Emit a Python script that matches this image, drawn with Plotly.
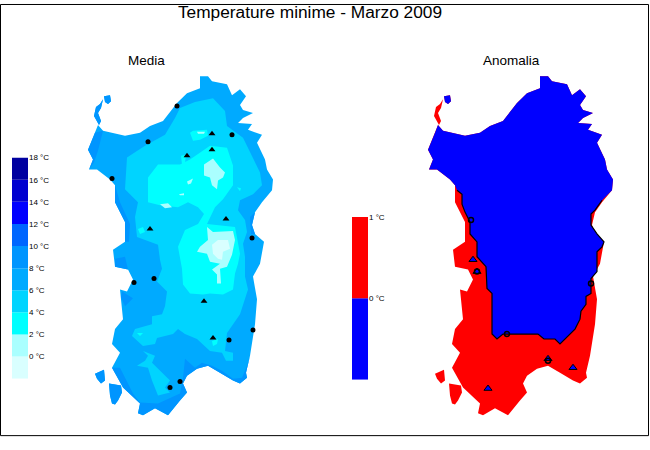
import plotly.graph_objects as go

# map outlines (x east, y south, in map units of the Media panel)
coast_north = [(115, 200), (115, 183), (110, 177), (97, 167), (89, 167), (93, 157), (88, 147), (95, 130),
               (98, 122), (103, 128), (125, 133), (140, 130), (150, 123), (163, 118), (177, 100), (187, 90),
               (200, 85), (200, 73), (208, 73), (212, 78), (227, 81), (232, 92), (240, 86), (246, 93),
               (240, 102), (243, 107), (253, 110), (243, 115), (238, 120), (252, 121), (248, 127), (262, 132),
               (257, 140), (265, 157), (267, 167), (273, 177), (272, 188), (262, 200), (255, 210), (252, 223),
               (255, 232), (264, 240)]
coast_south = [(262, 250), (260, 262), (253, 275), (257, 298), (255, 323), (253, 337), (250, 355), (246, 372),
               (247, 377), (240, 383), (233, 380), (220, 372), (208, 365), (197, 368), (187, 375), (183, 383),
               (187, 392), (180, 400), (168, 415), (155, 408), (143, 415), (138, 413), (140, 403), (123, 387),
               (112, 367), (120, 352), (112, 343), (115, 328), (123, 318), (120, 288), (127, 290), (133, 278),
               (128, 268), (115, 265), (113, 248), (125, 240), (125, 220)]
stintino = [(99, 122), (94, 113), (96, 104), (100, 101), (103, 96), (101, 105), (98, 110), (101, 118)]
asinara = [(104, 93), (110, 92), (111, 98), (108, 101), (105, 99)]
san_pietro = [(95, 373), (104, 369), (105, 380), (101, 383), (97, 378)]
sant_antioco = [(109, 383), (121, 385), (122, 392), (118, 400), (115, 404), (112, 403), (110, 395)]

# temperature bands
band_8_10 = [
    [(120, 367), (133, 393), (140, 402), (158, 403), (180, 393), (183, 377), (185, 358), (195, 367), (202, 362),
     (212, 365), (222, 370), (233, 378), (242, 377), (247, 365), (250, 355), (246, 372), (247, 377), (240, 383),
     (233, 380), (220, 372), (208, 365), (197, 368), (187, 375), (183, 383), (187, 392), (180, 400), (168, 415),
     (155, 408), (143, 415), (138, 413), (140, 403), (123, 387), (112, 367)],
    [(115, 257), (125, 255), (128, 268), (115, 265)],
    [(122, 290), (133, 297), (125, 305), (121, 296)],
    [(88, 147), (95, 130), (103, 128), (98, 148), (94, 160), (89, 167), (93, 157)],
    [(115, 200), (125, 220), (125, 240), (129, 240), (130, 222), (120, 200), (115, 183)],
    [(255, 210), (252, 223), (255, 232), (251, 232), (250, 215)],
    stintino, asinara, san_pietro, sant_antioco,
]
band_4_6 = [
    [(175, 115), (180, 105), (195, 99), (213, 95), (225, 108), (227, 123), (243, 135), (255, 160), (260, 170),
     (262, 183), (253, 192), (240, 198), (238, 208), (245, 218), (247, 230), (243, 242), (245, 255), (245, 275),
     (248, 288), (240, 313), (227, 332), (225, 350), (233, 352), (233, 360), (226, 360), (222, 352), (210, 350),
     (197, 338), (185, 333), (178, 328), (173, 333), (157, 337), (155, 343), (143, 345), (132, 335), (135, 328),
     (152, 323), (152, 315), (162, 313), (165, 305), (167, 290), (157, 280), (162, 267), (160, 258), (158, 243),
     (137, 235), (135, 215), (138, 200), (125, 187), (127, 155), (145, 143), (165, 132)],
    [(143, 350), (155, 355), (152, 362), (158, 368), (170, 380), (165, 387), (170, 392), (158, 395), (152, 380),
     (148, 367), (137, 365), (145, 360), (148, 355)],
]
band_2_4 = [
    [(158, 162), (180, 162), (190, 157), (200, 150), (210, 143), (227, 145), (233, 163), (233, 183), (223, 197),
     (215, 205), (210, 215), (207, 222), (235, 225), (240, 252), (238, 262), (235, 272), (233, 288), (223, 293),
     (210, 292), (203, 293), (190, 292), (183, 283), (182, 267), (178, 245), (185, 228), (198, 222), (204, 212),
     (198, 205), (188, 200), (178, 205), (160, 203), (148, 200), (148, 175)],
    [(190, 130), (193, 128), (207, 127), (208, 133), (200, 137), (193, 138)],
    [(181, 153), (186, 152), (185, 160), (182, 162)],
    [(138, 227), (143, 225), (145, 230), (140, 232)],
    [(137, 332), (143, 332), (140, 335)],
    [(212, 340), (218, 338), (217, 343), (213, 345)],
    [(237, 185), (241, 186), (240, 189)],
]
band_0_2 = [
    [(204, 162), (213, 156), (220, 165), (225, 170), (223, 175), (218, 178), (217, 187), (212, 183), (210, 175),
     (204, 173)],
    [(207, 225), (213, 230), (233, 229), (235, 238), (232, 253), (227, 265), (220, 267), (221, 282), (217, 282),
     (217, 273), (212, 268), (220, 262), (210, 260), (207, 252), (197, 250), (200, 245), (208, 238)],
    [(187, 179), (193, 176), (191, 181), (188, 182)],
    [(179, 192), (184, 191), (184, 193), (180, 193)],
    [(160, 202), (168, 201), (172, 205), (165, 206)],
    [(197, 129), (205, 129), (204, 131), (198, 131)],
]
band_below_0 = [[(212, 243), (218, 238), (228, 238), (230, 247), (223, 250), (222, 258), (218, 257), (213, 252)]]

# boundary between negative and positive anomaly
anomaly_edge = [(262, 198), (255, 208), (251, 212), (251, 223), (257, 232), (264, 240), (262, 245), (257, 250),
                (257, 270), (251, 277), (251, 292), (246, 295), (246, 303), (241, 310), (240, 318), (235, 328),
                (220, 343), (215, 338), (204, 338), (198, 333), (163, 333), (157, 338), (152, 333), (152, 292),
                (147, 287), (146, 265), (137, 255), (137, 240), (130, 232), (130, 220), (125, 210), (122, 202),
                (122, 192), (117, 188)]

# stations
media_round = [(148, 139), (112, 176), (232, 132), (252, 236), (134, 281), (154, 277), (253, 329), (229, 339),
               (180, 381), (170, 387), (177, 103)]
media_tri = [(187, 153), (212, 131), (212, 147), (226, 217), (150, 227), (204, 300), (213, 337)]
anomalia_tri = [(133, 258), (208, 358), (233, 367), (148, 388), (137, 270)]
anomalia_ring = [(137, 270), (167, 333), (208, 360), (251, 282), (131, 218)]

# colour bars
temp_edges = [-2, 0, 2, 4, 6, 8, 10, 12, 14, 16, 18]
temp_colors = ['#D9FFFF', '#AAFFFF', '#00FFFF', '#00D4FF', '#00AAFF', '#0095FF', '#0066FF', '#0000FF',
               '#0000D0', '#0000A0']
temp_ticks = [0, 2, 4, 6, 8, 10, 12, 14, 16, 18]
temp_labels = ['0 °C', '2 °C', '4 °C', '6 °C', '8 °C', '10 °C', '12 °C', '14 °C', '16 °C', '18 °C']
anomaly_edges = [-1, 0, 1]
anomaly_colors = ['#0000FF', '#FF0000']
anomaly_ticks = [0, 1]
anomaly_labels = ['0 °C', '1 °C']

FONT = 'Liberation Sans'


def polys(parts, **kw):
    xs, ys = [], []
    for part in parts:
        xs += [p[0] for p in part] + [part[0][0], None]
        ys += [p[1] for p in part] + [part[0][1], None]
    return go.Scatter(x=xs, y=ys, mode='lines', fill='toself', line=dict(width=0), hoverinfo='skip',
                      showlegend=False, **kw)


def points(pts, **kw):
    return go.Scatter(x=[p[0] for p in pts], y=[p[1] for p in pts], mode='markers', hoverinfo='skip',
                      showlegend=False, **kw)


def color_bar(edges, colors, xa, ya):
    return go.Bar(x=[0] * len(colors), base=edges[:-1], y=[b - a for a, b in zip(edges, edges[1:])],
                  width=1, marker=dict(color=colors, line=dict(width=0)), xaxis=xa, yaxis=ya,
                  hoverinfo='skip', showlegend=False)


island = coast_north + coast_south
islets = [stintino, asinara, san_pietro, sant_antioco]
negative = coast_north[1:-5] + anomaly_edge

fig = go.Figure()

# Media panel
fig.add_trace(polys([island] + islets, fillcolor='#00AAFF'))
fig.add_trace(polys(band_8_10, fillcolor='#0095FF'))
fig.add_trace(polys(band_4_6, fillcolor='#00D4FF'))
fig.add_trace(polys(band_2_4, fillcolor='#00FFFF'))
fig.add_trace(polys(band_0_2, fillcolor='#AAFFFF'))
fig.add_trace(polys(band_below_0, fillcolor='#D9FFFF'))
fig.add_trace(points(media_round, marker=dict(color='black', size=5, symbol='circle')))
fig.add_trace(points(media_tri, marker=dict(color='black', size=6, symbol='triangle-up')))

# Anomalia panel, same map coordinates on a shifted x axis
fig.add_trace(polys([island] + islets, fillcolor='#FF0000', xaxis='x4', yaxis='y'))
fig.add_trace(polys([negative, asinara], fillcolor='#0000FF', xaxis='x4', yaxis='y'))
fig.add_trace(go.Scatter(x=[p[0] for p in anomaly_edge], y=[p[1] for p in anomaly_edge], mode='lines',
                         line=dict(color='black', width=1.2), xaxis='x4', yaxis='y', hoverinfo='skip',
                         showlegend=False))
fig.add_trace(points(anomalia_tri, xaxis='x4', yaxis='y',
                     marker=dict(color='#0000FF', size=7, symbol='triangle-up', line=dict(color='black', width=1))))
fig.add_trace(points(anomalia_ring, xaxis='x4', yaxis='y',
                     marker=dict(color='rgba(0,0,0,0)', size=5, symbol='circle', line=dict(color='black', width=1.5))))

fig.add_trace(color_bar(temp_edges, temp_colors, 'x2', 'y2'))
fig.add_trace(color_bar(anomaly_edges, anomaly_colors, 'x3', 'y3'))

hidden = dict(visible=False, fixedrange=True)
tick_style = dict(side='right', ticks='', showgrid=False, zeroline=False, showline=False,
                  tickfont=dict(family=FONT, size=8, color='black'))

fig.update_layout(
    width=650,
    height=450,
    margin=dict(l=0, r=0, t=0, b=0),
    paper_bgcolor='white',
    plot_bgcolor='white',
    barmode='overlay',
    title=dict(text='Temperature minime - Marzo 2009', x=310 / 650, xanchor='center', y=1 - 12 / 450,
               yanchor='middle', font=dict(family=FONT, size=17.3, color='black')),
    xaxis=dict(range=[0, 650], domain=[0, 1], **hidden),
    yaxis=dict(range=[450, 0], domain=[0, 1], **hidden),
    xaxis4=dict(range=[-340, 310], domain=[0, 1], overlaying='x', **hidden),
    xaxis2=dict(range=[-0.5, 0.5], domain=[12 / 650, 28 / 650], anchor='y2', **hidden),
    yaxis2=dict(range=[-2, 18], domain=[1 - 378 / 450, 1 - 155 / 450], anchor='x2',
                tickvals=temp_ticks, ticktext=temp_labels, **tick_style),
    xaxis3=dict(range=[-0.5, 0.5], domain=[352 / 650, 368 / 650], anchor='y3', **hidden),
    yaxis3=dict(range=[-1, 1], domain=[1 - 379 / 450, 1 - 215 / 450], anchor='x3',
                tickvals=anomaly_ticks, ticktext=anomaly_labels, **tick_style),
    annotations=[
        dict(text='Media', x=146 / 650, y=1 - 57 / 450, xref='paper', yref='paper', showarrow=False,
             xanchor='center', yanchor='middle', font=dict(family=FONT, size=13.5, color='black')),
        dict(text='Anomalia', x=511 / 650, y=1 - 57 / 450, xref='paper', yref='paper', showarrow=False,
             xanchor='center', yanchor='middle', font=dict(family=FONT, size=13.5, color='black')),
    ],
    shapes=[dict(type='rect', xref='paper', yref='paper', x0=0.5 / 650, x1=648.5 / 650, y0=1 - 435.5 / 450,
                 y1=1 - 0.5 / 450, line=dict(color='black', width=1))],
)

# page margin would push the 650x450 figure off its frame
fig.write_html("out.html", config={'displayModeBar': False}, post_script="document.body.style.margin='0';")
